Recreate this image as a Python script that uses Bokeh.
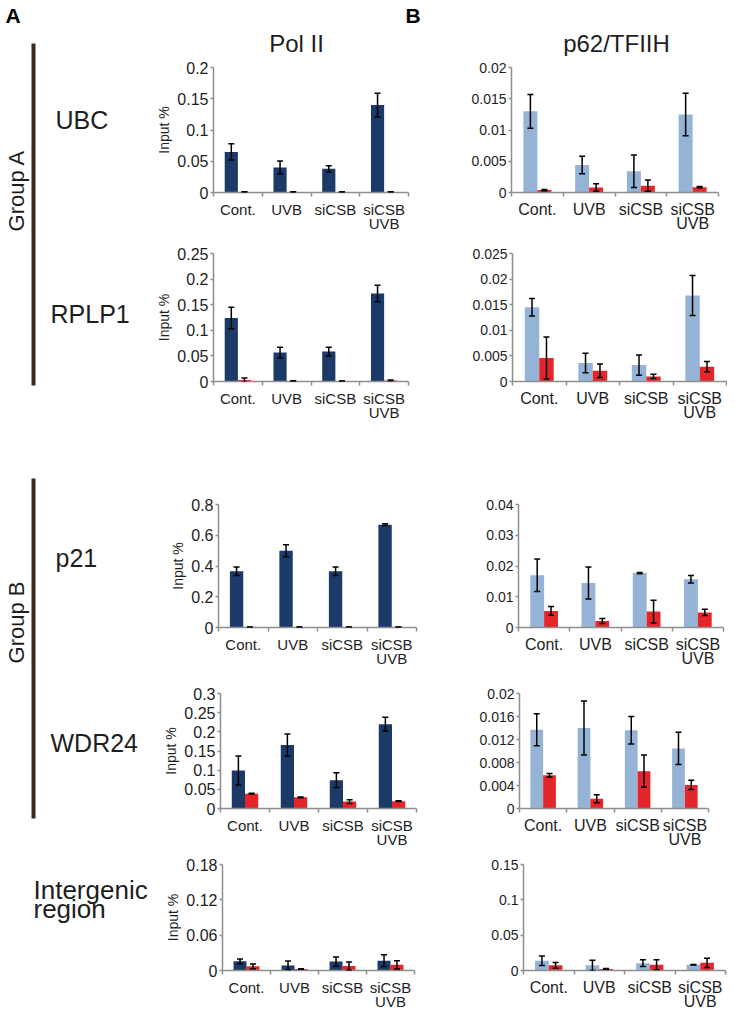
import math
from bokeh.plotting import figure
from bokeh.layouts import row, column
from bokeh.models import (Range1d, FixedTicker, CustomJSTickFormatter, Whisker, TeeHead,
                          ColumnDataSource, Label)
from bokeh.embed import file_html
from bokeh.resources import INLINE

FONT = "Liberation Sans"

# ---------------- data ----------------
categories = ["Cont.", "UVB", "siCSB", "siCSB\nUVB"]

# Pol II (dark blue = series a, red = series b)
ubc_pol_a = [0.065, 0.040, 0.038, 0.140]
ubc_pol_a_err = [0.013, 0.0105, 0.005, 0.019]
ubc_pol_b = [0.001, 0.001, 0.0008, 0.001]
ubc_pol_b_err = [0.0004, 0.0004, 0.0004, 0.0004]

rplp1_pol_a = [0.124, 0.0566, 0.0585, 0.172]
rplp1_pol_a_err = [0.021, 0.0105, 0.0085, 0.016]
rplp1_pol_b = [0.003, 0.001, 0.0008, 0.002]
rplp1_pol_b_err = [0.004, 0.0005, 0.0003, 0.001]

p21_pol_a = [0.366, 0.499, 0.366, 0.669]
p21_pol_a_err = [0.028, 0.039, 0.027, 0.006]
p21_pol_b = [0.003, 0.002, 0.003, 0.003]
p21_pol_b_err = [0.001, 0.001, 0.001, 0.001]

wdr24_pol_a = [0.099, 0.1655, 0.074, 0.220]
wdr24_pol_a_err = [0.038, 0.029, 0.019, 0.018]
wdr24_pol_b = [0.0388, 0.0293, 0.018, 0.019]
wdr24_pol_b_err = [0.001, 0.001, 0.005, 0.001]

inter_pol_a = [0.0156, 0.0086, 0.0151, 0.0166]
inter_pol_a_err = [0.004, 0.0075, 0.008, 0.010]
inter_pol_b = [0.0071, 0.0025, 0.0076, 0.0096]
inter_pol_b_err = [0.004, 0.0005, 0.007, 0.007]

# p62/TFIIH (light blue = series a, red = series b)
ubc_p62_a = [0.0130, 0.0044, 0.0034, 0.0125]
ubc_p62_a_err = [0.0027, 0.0014, 0.0026, 0.0034]
ubc_p62_b = [0.0004, 0.0008, 0.0011, 0.00085]
ubc_p62_b_err = [0.0001, 0.0006, 0.0009, 0.0001]

rplp1_p62_a = [0.0145, 0.0036, 0.0032, 0.0168]
rplp1_p62_a_err = [0.0017, 0.0019, 0.0020, 0.0039]
rplp1_p62_b = [0.0046, 0.0021, 0.0010, 0.0029]
rplp1_p62_b_err = [0.0041, 0.0013, 0.0004, 0.0010]

p21_p62_a = [0.0170, 0.0145, 0.0177, 0.0157]
p21_p62_a_err = [0.0053, 0.0052, 0.0002, 0.0012]
p21_p62_b = [0.0054, 0.0021, 0.0052, 0.0049]
p21_p62_b_err = [0.0014, 0.0008, 0.0037, 0.0010]

wdr24_p62_a = [0.0137, 0.0140, 0.0136, 0.01045]
wdr24_p62_a_err = [0.0028, 0.0047, 0.0024, 0.0028]
wdr24_p62_b = [0.0058, 0.0017, 0.0065, 0.0041]
wdr24_p62_b_err = [0.0003, 0.0007, 0.0028, 0.0008]

inter_p62_a = [0.0138, 0.0073, 0.0104, 0.0082]
inter_p62_a_err = [0.0067, 0.0073, 0.0048, 0.0003]
inter_p62_b = [0.0073, 0.0022, 0.0082, 0.0108]
inter_p62_b_err = [0.0040, 0.0005, 0.0070, 0.0065]

# y tick values
ubc_pol_ticks = [0, 0.05, 0.1, 0.15, 0.2]
ubc_p62_ticks = [0, 0.005, 0.01, 0.015, 0.02]
rplp1_pol_ticks = [0, 0.05, 0.1, 0.15, 0.2, 0.25]
rplp1_p62_ticks = [0, 0.005, 0.01, 0.015, 0.02, 0.025]
p21_pol_ticks = [0, 0.2, 0.4, 0.6, 0.8]
p21_p62_ticks = [0, 0.01, 0.02, 0.03, 0.04]
wdr24_pol_ticks = [0, 0.05, 0.1, 0.15, 0.2, 0.25, 0.3]
wdr24_p62_ticks = [0, 0.004, 0.008, 0.012, 0.016, 0.02]
inter_pol_ticks = [0, 0.06, 0.12, 0.18]
inter_p62_ticks = [0, 0.05, 0.1, 0.15]

genes = ["UBC", "RPLP1", "p21", "WDR24", "Intergenic\nregion"]
groups = ["Group A", "Group B"]
titles = ["Pol II", "p62/TFIIH"]

# ---------------- styles ----------------
POL_BLUE = "#1c3a67"
P62_BLUE = "#95b3d7"
RED = "#e4262b"
AXIS_GREY = "#8e8e8e"
TXT = "#1e1e1e"
BROWN = "#3b2a1e"
BAR_W = 0.27


def chart(w, h, borders, ticks, a, a_err, b, b_err, color_a, ylabel, tick_fs, cat_fs):
    left, right, top, bottom = borders
    n = len(categories)
    p = figure(width=w, height=h, x_range=Range1d(0, n), y_range=Range1d(0, ticks[-1]),
               output_backend="svg", toolbar_location=None,
               min_border_left=left, min_border_right=right,
               min_border_top=top, min_border_bottom=bottom)
    p.outline_line_color = None
    p.grid.visible = False
    p.background_fill_color = "white"
    p.border_fill_color = "white"

    xa = [i + 0.5 - BAR_W / 2 for i in range(n)]
    xb = [i + 0.5 + BAR_W / 2 for i in range(n)]
    for xs, vals, errs, col in ((xa, a, a_err, color_a), (xb, b, b_err, RED)):
        src = ColumnDataSource(dict(x=xs, top=vals,
                                    upper=[v + e for v, e in zip(vals, errs)],
                                    lower=[v - e for v, e in zip(vals, errs)]))
        p.vbar(x="x", top="top", bottom=0, width=BAR_W, source=src,
               fill_color=col, line_color=None)
        wk = Whisker(source=src, base="x", upper="upper", lower="lower",
                     line_color="black", line_width=1.5, level="annotation",
                     upper_head=TeeHead(size=6, line_color="black", line_width=1.5),
                     lower_head=TeeHead(size=6, line_color="black", line_width=1.5))
        p.add_layout(wk)

    xax = p.xaxis[0]
    xax.ticker = FixedTicker(ticks=[i + 0.5 for i in range(n)],
                             minor_ticks=[i for i in range(n + 1)])
    xax.formatter = CustomJSTickFormatter(args=dict(cats=categories),
                                          code="return cats[Math.floor(tick)]")
    xax.major_tick_out = 0
    xax.major_tick_in = 0
    xax.minor_tick_out = 4
    xax.minor_tick_in = 0
    xax.minor_tick_line_color = AXIS_GREY
    xax.minor_tick_line_width = 1.5
    xax.major_label_standoff = 4
    xax.major_label_text_font = FONT
    xax.major_label_text_font_size = f"{cat_fs}px"
    xax.major_label_text_color = TXT
    xax.major_label_text_line_height = 0.85
    xax.axis_line_color = AXIS_GREY
    xax.axis_line_width = 1.5

    labels = [f"{t:g}" for t in ticks]
    yax = p.yaxis[0]
    yax.ticker = FixedTicker(ticks=ticks, minor_ticks=[])
    yax.formatter = CustomJSTickFormatter(
        args=dict(tvals=ticks, tlabels=labels),
        code="const i = tvals.findIndex(t => Math.abs(t - tick) < 1e-9); return i >= 0 ? tlabels[i] : ''")
    yax.major_tick_out = 3
    yax.major_tick_in = 0
    yax.minor_tick_out = 0
    yax.minor_tick_in = 0
    yax.major_tick_line_color = AXIS_GREY
    yax.major_tick_line_width = 1.5
    yax.major_label_standoff = 2
    yax.major_label_text_font = FONT
    yax.major_label_text_font_size = f"{tick_fs}px"
    yax.major_label_text_color = TXT
    yax.axis_line_color = AXIS_GREY
    yax.axis_line_width = 1.5
    if ylabel:
        yax.axis_label = ylabel
        yax.axis_label_text_font = FONT
        yax.axis_label_text_font_size = "14px"
        yax.axis_label_text_font_style = "normal"
        yax.axis_label_text_color = TXT
        yax.axis_label_standoff = 2
    return p


# widths: left 153, middle 315, right 259 ; heights: header 56, rows 178/194/242/180/162
LEFT_W, MID_W, RIGHT_W = 153, 315, 259
HEAD_H = 56
row_h = [178, 194, 242, 180, 162]
pol_borders = [(59, 60, 9, 42), (59, 60, 13, 47), (65, 52, 76, 43), (67, 52, 23, 41), (69, 54, 10, 34)]
p62_borders = [(42, 9, 11, 41), (44, 1, 19, 43), (50, 4, 73, 42), (51, 19, 20, 41), (55, 2, 14, 34)]

pol_data = [
    (ubc_pol_ticks, ubc_pol_a, ubc_pol_a_err, ubc_pol_b, ubc_pol_b_err),
    (rplp1_pol_ticks, rplp1_pol_a, rplp1_pol_a_err, rplp1_pol_b, rplp1_pol_b_err),
    (p21_pol_ticks, p21_pol_a, p21_pol_a_err, p21_pol_b, p21_pol_b_err),
    (wdr24_pol_ticks, wdr24_pol_a, wdr24_pol_a_err, wdr24_pol_b, wdr24_pol_b_err),
    (inter_pol_ticks, inter_pol_a, inter_pol_a_err, inter_pol_b, inter_pol_b_err),
]
p62_data = [
    (ubc_p62_ticks, ubc_p62_a, ubc_p62_a_err, ubc_p62_b, ubc_p62_b_err),
    (rplp1_p62_ticks, rplp1_p62_a, rplp1_p62_a_err, rplp1_p62_b, rplp1_p62_b_err),
    (p21_p62_ticks, p21_p62_a, p21_p62_a_err, p21_p62_b, p21_p62_b_err),
    (wdr24_p62_ticks, wdr24_p62_a, wdr24_p62_a_err, wdr24_p62_b, wdr24_p62_b_err),
    (inter_p62_ticks, inter_p62_a, inter_p62_a_err, inter_p62_b, inter_p62_b_err),
]

rows = []
for k in range(5):
    pp = chart(MID_W, row_h[k], pol_borders[k], *pol_data[k], POL_BLUE, "Input %", 16, 15)
    qq = chart(RIGHT_W, row_h[k], p62_borders[k], *p62_data[k], P62_BLUE, None, 14, 16)
    rows.append(row(pp, qq, spacing=0))

TOTAL_H = HEAD_H + sum(row_h)


def blank(w, h, x0, x1, y0, y1):
    # plain canvas whose data units equal page pixels (y measured downward)
    f = figure(width=w, height=h, x_range=Range1d(x0, x1), y_range=Range1d(-y1, -y0),
               x_axis_type=None, y_axis_type=None, output_backend="svg",
               toolbar_location=None, min_border=0)
    f.min_border_left = f.min_border_right = f.min_border_top = f.min_border_bottom = 0
    f.outline_line_color = None
    f.grid.visible = False
    f.background_fill_color = "white"
    f.border_fill_color = "white"
    return f


def put(fig, x, y, text, size, bold=False, angle=0.0, align="left"):
    fig.add_layout(Label(x=x, y=-y, text=text, text_font=FONT, text_font_size=f"{size}px",
                         text_font_style="bold" if bold else "normal",
                         text_color="black" if bold else TXT, angle=angle,
                         text_align=align, text_baseline="middle"))


# header (page x 153..727, y 0..56)
header = blank(MID_W + RIGHT_W, HEAD_H, LEFT_W, LEFT_W + MID_W + RIGHT_W, 0, HEAD_H)
put(header, 405, 15, "B", 21, bold=True)
put(header, 296, 43, titles[0], 24, align="center")
put(header, 616, 43, titles[1], 24, align="center")

# left side (page x 0..153, y 0..TOTAL_H)
left = blank(LEFT_W, TOTAL_H, 0, LEFT_W, 0, TOTAL_H)
put(left, 5, 15, "A", 21, bold=True)
left.segment(x0=[33, 33], y0=[-43, -478], x1=[33, 33], y1=[-385, -818],
             line_width=4, line_color=BROWN)
for txt, yc in zip(groups, [190, 622]):
    put(left, 16, yc, txt, 22, angle=math.pi / 2, align="center")
gene_pos = [(55, 119), (50, 313), (55, 557), (50, 742)]
for txt, (gx, gy) in zip(genes[:4], gene_pos):
    put(left, gx, gy, txt, 25)
for txt, gy in zip(genes[4].split("\n"), [889, 908]):
    put(left, 33, gy, txt, 26)

right_col = column(header, *rows, spacing=0)
layout = row(left, right_col, spacing=0)

open("out.html", "w").write(file_html(layout, INLINE))
